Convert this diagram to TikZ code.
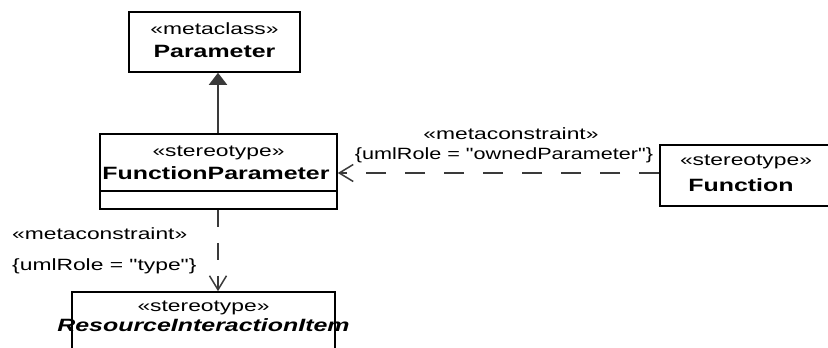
\documentclass[tikz,border=0pt]{standalone}
\usepackage{fontspec}
\setmainfont{Liberation Sans}[FakeStretch=1.4,Ligatures=TeXOff]
\newfontfamily\narrowlbl{Liberation Sans}[FakeStretch=1.325,Ligatures=TeXOff]
\usetikzlibrary{arrows.meta,calc}
\definecolor{ln}{HTML}{3A3A3A}
\begin{document}
\begin{tikzpicture}[x=1pt,y=-1pt,
  box/.style={draw=black,line width=1.6pt,inner sep=0pt,fill=white},
  st/.style={inner sep=0pt,font=\fontsize{16.3}{18}\selectfont},
  nm/.style={inner sep=0pt,font=\fontsize{17.8}{20}\selectfont\bfseries},
  lbl/.style={inner sep=0pt,font=\fontsize{16.3}{18}\selectfont},
  gen/.style={draw=ln,line width=2pt,-{Triangle[length=12pt,width=18pt]}},
  dep/.style={draw=ln,line width=1.8pt,-{Straight Barb[length=14pt,width=17pt,line width=1.5pt]}}]
\useasboundingbox (0,0) rectangle (828,348);
% boxes
\node[box,minimum width=171pt,minimum height=60pt] (param) at (214.5,42) {};
\node[box,minimum width=237pt,minimum height=75pt] (fp) at (218.5,171.5) {};
\draw[line width=1.6pt] (100,191) coordinate (sepl) -- (337,191) coordinate (sepr);
\node[box,minimum width=170pt,minimum height=61pt] (func) at (745,175.5) {};
\node[box,minimum width=263pt,minimum height=70pt] (rii) at (203.5,327) {};
% texts
\node[st] (t1) at (214.5,29) {«metaclass»};
\node[nm] (t2) at (214.5,51) {Parameter};
\node[st] (t3) at (218.5,153) {«stereotype»};
\node[nm] (t4) at (216,173) {FunctionParameter};
\node[st] (t5) at (746,162) {«stereotype»};
\node[nm] (t6) at (741,185) {Function};
\node[st] (t7) at (203.5,308) {«stereotype»};
\node[nm,font=\fontsize{17.8}{20}\selectfont\bfseries\itshape] (t8) at (203.5,325) {ResourceInteractionItem};
% labels
\node[lbl] (l1) at (511,134) {«metaconstraint»};
\node[lbl,font=\fontsize{16.3}{18}\narrowlbl] (l2) at (504,155) {\{umlRole = "ownedParameter"\}};
\node[lbl,anchor=west] (l3) at (12,234) {«metaconstraint»};
\node[lbl,anchor=west] (l4) at (12,266) {\{umlRole = "type"\}};
% connectors
\coordinate (dy) at (0,173);
\coordinate (vx) at (218,0);
\draw[gen] (fp.north -| vx) -- (param.south -| vx);
\draw[dep,dash pattern=on 20pt off 19pt] (func.west |- dy) -- (fp.east |- dy);
\draw[dep,dash pattern=on 17pt off 16pt] (fp.south -| vx) -- (rii.north -| vx);
\end{tikzpicture}
\end{document}
